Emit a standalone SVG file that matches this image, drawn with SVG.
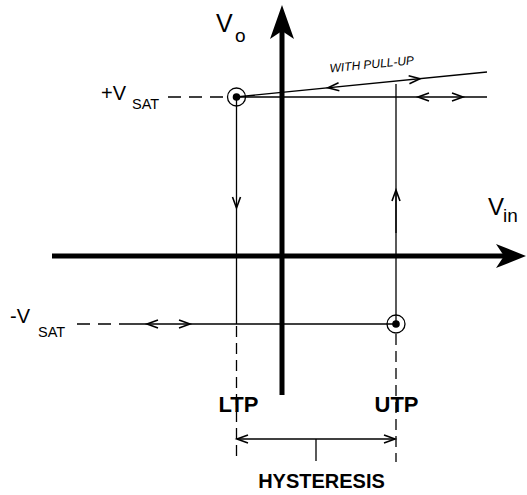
<svg xmlns="http://www.w3.org/2000/svg" width="527" height="495" viewBox="0 0 527 495">
<style>
.ln{stroke:#000;stroke-width:1.3;fill:none}
.dash{stroke:#000;stroke-width:1.3;fill:none;stroke-dasharray:13 8}
.vdash{stroke:#000;stroke-width:1.3;fill:none;stroke-dasharray:11 6}
.arr{stroke:#000;stroke-width:1.6;fill:none;stroke-linejoin:miter}
.axis{stroke:#000;stroke-width:5;fill:none}
.t{font-family:"Liberation Sans",Arial,sans-serif;fill:#000}
.b{font-family:"Liberation Sans",Arial,sans-serif;font-weight:bold;fill:#000}
</style>
<g id="axes">
<line class="axis" x1="282" y1="28" x2="282" y2="395"/>
<path d="M282,5 L294,39 L282,31 L270,39 Z" fill="#000"/>
<line class="axis" x1="52" y1="256" x2="508" y2="256"/>
<path d="M526,256 L496,244 L504,256 L496,268 Z" fill="#000"/>
</g>
<g id="labels">
<text class="t" x="216" y="32" font-size="25">V</text>
<text class="t" x="235" y="42" font-size="19">o</text>
<text class="t" x="488" y="215" font-size="24">V</text>
<text class="t" x="503" y="222" font-size="19">in</text>
<text class="t" x="101" y="100" font-size="20">+V</text>
<text class="t" x="132" y="109" font-size="14.5">SAT</text>
<text class="t" x="10" y="323" font-size="20">-V</text>
<text class="t" x="38" y="337" font-size="14.5">SAT</text>
<text class="b" x="238.5" y="412" font-size="22" text-anchor="middle">LTP</text>
<text class="b" x="396.5" y="412" font-size="22" text-anchor="middle">UTP</text>
<text class="b" x="321.5" y="488" font-size="20" text-anchor="middle">HYSTERESIS</text>
<text class="t" font-size="12" font-style="italic" transform="translate(330,72.5) rotate(-5.7)">WITH PULL-UP</text>
</g>
<g id="connectors">
<line class="dash" x1="168" y1="97" x2="227" y2="97"/>
<line class="ln" x1="236" y1="97" x2="487" y2="97"/>
<line class="ln" x1="236" y1="97" x2="487" y2="72"/>
<line class="ln" x1="396" y1="84" x2="396" y2="324"/>
<line class="ln" x1="396" y1="191" x2="396" y2="233" stroke-width="1.8"/>
<line class="ln" x1="236.5" y1="97" x2="236.5" y2="324"/>
<line class="dash" x1="77" y1="324" x2="122" y2="324"/>
<line class="ln" x1="122" y1="324" x2="396" y2="324"/>
<line class="vdash" x1="236.5" y1="326" x2="236.5" y2="462"/>
<line class="vdash" x1="396" y1="334" x2="396" y2="462"/>
<line class="ln" x1="237" y1="439" x2="395" y2="439"/>
<line class="ln" x1="316" y1="439" x2="316" y2="461"/>
<polyline class="arr" points="232.5,197 236.5,208 240.5,197"/>
<polyline class="arr" points="392,201 396,190 400,201"/>
<polyline class="arr" points="158,320 147,324 158,328"/>
<polyline class="arr" points="179,320 190,324 179,328"/>
<polyline class="arr" points="429,93 418,97 429,101"/>
<polyline class="arr" points="452,93 463,97 452,101"/>
<polyline class="arr" points="248,435 237,439 248,443"/>
<polyline class="arr" points="384,435 395,439 384,443"/>
<polyline class="arr" points="339.35,90.73 328,87.84 338.55,82.77"/>
<polyline class="arr" points="409.45,83.74 420,78.67 408.65,75.78"/>
</g>
<g id="node-plus-sat">
<circle cx="236.5" cy="97" r="9" fill="none" stroke="#000" stroke-width="1.3"/>
<circle cx="236.5" cy="97" r="3.8" fill="#000"/>
</g>
<g id="node-minus-sat">
<circle cx="396" cy="324" r="9" fill="none" stroke="#000" stroke-width="1.3"/>
<circle cx="396" cy="324" r="3.8" fill="#000"/>
</g>
</svg>
